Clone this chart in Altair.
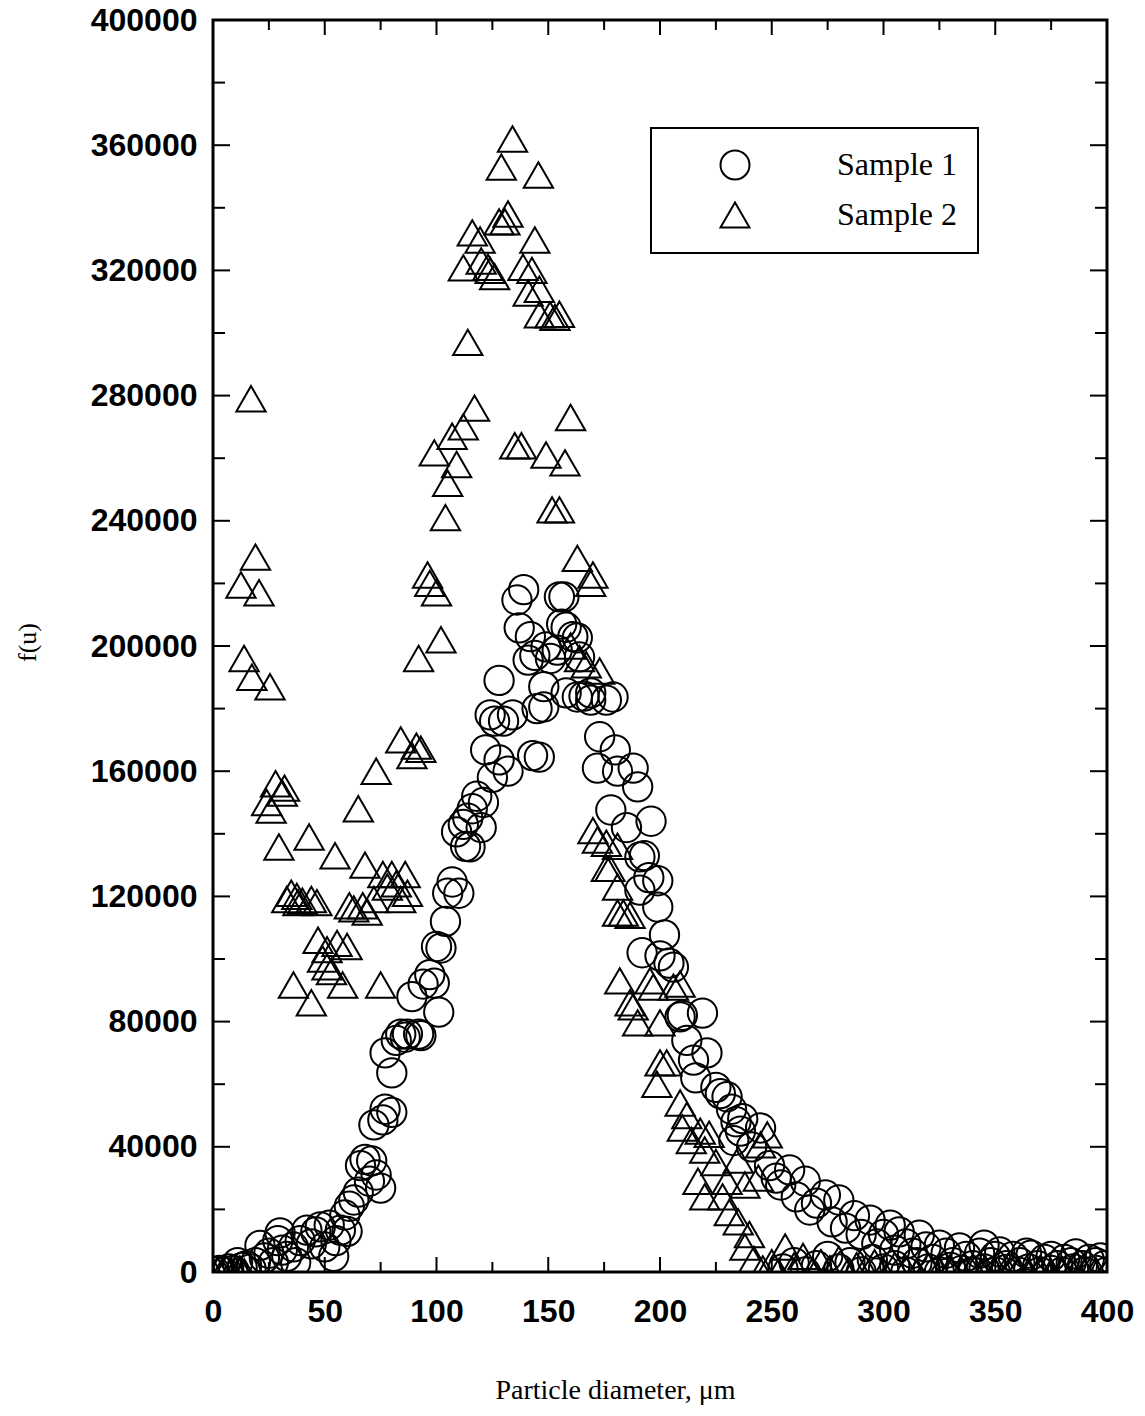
import altair as alt
import pandas as pd

# Sample 1 (circles)
s1_x = [1, 3, 5, 7, 9, 11, 13, 15, 17, 19, 21, 23, 25, 27, 29, 30, 31, 33, 36, 37, 39, 42, 44, 46, 48,
        50, 52, 54, 55, 57, 59, 60, 61, 63, 65, 66, 68, 70, 71, 73, 75, 72, 77, 80, 76, 77, 80, 82, 84,
        86, 87, 89, 92, 93, 94, 97, 99, 100, 101, 102, 104, 105, 107, 110, 109, 112, 114, 113, 115, 116,
        118, 121, 120, 122, 125, 124, 126, 128, 128, 130, 132, 134, 136, 137, 139, 141, 142, 143, 144,
        145, 146, 148, 148, 149, 151, 154, 155, 156, 157, 158, 158, 161, 163, 164, 163, 166, 169, 169,
        172, 173, 176, 178, 179, 180, 181, 185, 188, 190, 191, 191, 192, 193, 195, 196, 199, 199, 200,
        202, 204, 206, 209, 210, 212, 215, 216, 219, 221, 225, 227, 230, 232, 234, 236, 237, 241, 245,
        233, 249, 252, 254, 258, 261, 265, 267, 270, 274, 277, 280, 283, 287, 290, 294, 297, 300, 303,
        305, 307, 310, 313, 316, 319, 322, 325, 328, 331, 334, 337, 340, 343, 345, 348, 350, 352, 355,
        358, 361, 364, 366, 369, 372, 375, 378, 381, 384, 386, 389, 392, 395, 397, 399,
        255, 260, 265, 270, 275, 280, 285, 290, 295, 300, 305, 310, 315, 320, 325, 330, 335, 340, 345,
        350, 355, 360, 365, 370, 375, 380, 385, 390, 395, 400]
s1_y = [0, 500, 0, 1000, 500, 3000, 1500, 2000, 1000, 3000, 8500, 4500, 6000, 3000, 10000, 12500, 7000,
        5000, 8000, 3000, 10000, 13400, 9000, 12800, 14400, 8000, 15000, 5000, 10000, 13400, 18200,
        13000, 21000, 23000, 25500, 34000, 36000, 29000, 35500, 31000, 26800, 47000, 52000, 51000,
        48600, 70000, 63600, 74000, 76000, 75000, 76000, 88000, 76000, 75500, 92000, 95000, 92300,
        104000, 83000, 103500, 112000, 121000, 124600, 121000, 140600, 143000, 145000, 136000, 135800,
        148000, 152000, 150000, 142000, 166800, 158000, 178000, 176000, 163600, 189000, 176000, 160000,
        178000, 214700, 205800, 218000, 195500, 203000, 165000, 197000, 180000, 164500, 187000, 180500,
        199700, 196000, 198700, 215700, 207000, 215700, 185000, 206000, 203000, 202600, 196500, 183700,
        184000, 185000, 182700, 161000, 171000, 182700, 147600, 183700, 166800, 160000, 142000, 161000,
        155000, 132600, 122000, 102000, 133000, 126000, 144000, 125000, 116600, 101000, 107700, 98700,
        97400, 81500, 82000, 74000, 67700, 62000, 82700, 70000, 59000, 57000, 56000, 52000, 48000,
        45000, 49000, 40000, 46000, 42000, 34000, 30000, 27800, 32600, 24000, 29000, 19800, 22000,
        24600, 16000, 23000, 14000, 18000, 12000, 16600, 9000, 12000, 15000, 7000, 12800, 9000, 6000,
        11800, 8000, 4000, 8600, 6000, 3000, 7700, 5000, 2000, 6000, 8600, 3000, 5000, 6400, 2000,
        5000, 3000, 6000, 5400, 2000, 4000, 5000, 2000, 4000, 3000, 5800, 2000, 4000, 3000, 4500, 2000,
        1000, 3000, 0, 2000, 5000, 1000, 3000, 0, 4000, 1000, 2000, 0, 3000, 1000, 0, 1500, 500, 0,
        1000, 0, 800, 0, 1000, 0, 500, 0, 1000, 0, 500, 0]

# Sample 2 (triangles)
s2_x = [0, 2, 4, 6, 8, 10, 12, 14,
        17, 19, 12.5, 20.6, 13.9, 17.4, 25.5,
        28, 32, 31, 24, 26, 29.5, 43,
        37.5, 33, 35, 38, 40, 46.5, 44,
        47, 51, 55.5, 60, 51, 49, 53, 36, 44, 58, 75,
        54.6, 68, 65, 73,
        61, 63, 67, 69, 72, 78, 76, 80, 84, 82, 86, 87,
        84, 91, 93, 89,
        92, 96, 97, 100, 102,
        99, 104, 105, 109, 107, 112, 117,
        114, 112, 116, 119.5, 120, 123, 126, 124,
        128, 130.6, 132, 129, 134, 145.6, 144, 138.7, 142.7, 141, 146, 146, 150.8, 155, 153,
        135, 138, 149, 157.5, 160, 151.7, 155,
        163, 170, 169, 173, 160, 164, 167,
        170, 172, 176, 181, 176, 181, 177.6, 183.6, 181, 186.6, 182, 195.5, 206, 197, 209, 186.6,
        188, 190, 200, 203, 200, 198.6, 209, 210, 212, 214, 218, 220, 222, 225, 217, 220, 228,
        230, 231, 235, 238, 235, 238, 245, 248, 244, 240, 242, 246, 250, 253, 256, 260, 264,
        268, 272, 276, 280, 284, 288, 292, 296, 300, 305, 310, 315, 320, 325, 330, 335, 340,
        345, 350, 355, 360, 365, 370, 375, 380, 385, 390, 395, 400]
s2_y = [0, 500, 0, 1000, 0, 500, 1000, 0,
        279000, 228400, 219500, 217000, 196000, 190000, 187000,
        156000, 154600, 153000, 150000, 147600, 135800, 139000,
        120000, 119000, 121000, 118000, 118500, 118000, 119000,
        106000, 103000, 105000, 104000, 97500, 100000, 96000, 91700, 86000, 91700, 91700,
        133000, 130000, 148000, 160000,
        117000, 116000, 117000, 115000, 119000, 123000, 127000, 127000, 119000, 124000, 127000, 121000,
        170000, 168000, 167000, 165000,
        196000, 222700, 220000, 217000, 202000,
        261700, 241000, 252000, 258000, 267000, 270000, 276000,
        297000, 320800, 332000, 329700, 323000, 321000, 318000, 320000,
        335500, 335500, 338000, 353000, 362000, 350500, 329700, 321000, 320000, 312800, 314000,
        305800, 305800, 306000, 305000,
        264000, 264000, 261000, 258500, 273000, 243500, 243500,
        228000, 222700, 220000, 192000, 200000, 196000, 194000,
        141000, 138000, 137000, 136000, 129000, 123000, 129000, 114700, 114700, 114000, 93000, 93000,
        91000, 91000, 92000, 86000,
        84700, 79600, 79600, 66800, 66800, 60000, 54000, 46000, 50000, 42000, 45000, 39000, 44000,
        35000, 29000, 24000, 24000, 29000, 19000, 35800, 27800, 16000, 8000, 40600, 43800, 30000,
        12000, 4000, 1000, 3000, 0, 8000, 2000, 5000, 0, 3000, 1000, 4000, 0, 2000, 1000, 3000, 0,
        2000, 1000, 0, 2000, 500, 1000, 0, 1500, 500, 0, 1000, 500, 0, 1000, 0, 500, 1000, 0, 500, 0]

series_names = ["Sample 1", "Sample 2"]

x_major = [0, 50, 100, 150, 200, 250, 300, 350, 400]
x_minor = [25, 75, 125, 175, 225, 275, 325, 375]
y_major = [0, 40000, 80000, 120000, 160000, 200000, 240000, 280000, 320000, 360000, 400000]
y_minor = [20000, 60000, 100000, 140000, 180000, 220000, 260000, 300000, 340000, 380000]

W, H = 894, 1252

df = pd.concat([
    pd.DataFrame({"d": s1_x, "f": s1_y, "series": series_names[0]}),
    pd.DataFrame({"d": s2_x, "f": s2_y, "series": series_names[1]}),
], ignore_index=True)

xscale = alt.Scale(domain=[0, 400], nice=False, zero=False)
yscale = alt.Scale(domain=[0, 400000], nice=False)

sans = "Liberation Sans"
serif = "Liberation Serif"

x_axis = alt.Axis(values=x_major, title="Particle diameter, μm", grid=False, domain=False,
                  ticks=False, tickSize=0, labelPadding=24, labelFont=sans, labelFontSize=32,
                  labelFontWeight="bold", labelColor="black", labelFlush=False,
                  titleFont=serif, titleFontSize=28, titleFontWeight="normal", titleColor="black",
                  titleX=402, titleY=118, titleBaseline="middle", titleAnchor="middle")
y_axis = alt.Axis(values=y_major, format="d", title="f(u)", grid=False, domain=False,
                  ticks=False, tickSize=0, labelPadding=16, labelFont=sans, labelFontSize=32,
                  labelFontWeight="bold", labelColor="black", labelFlush=False,
                  titleFont=serif, titleFontSize=26, titleFontWeight="normal", titleColor="black",
                  titleX=-186, titleY=622, titleAngle=270, titleBaseline="middle",
                  titleAlign="center")

points = alt.Chart(df).mark_point(
    filled=False, stroke="black", strokeWidth=2, opacity=1, size=860, clip=True
).encode(
    x=alt.X("d:Q", scale=xscale, axis=x_axis),
    y=alt.Y("f:Q", scale=yscale, axis=y_axis),
    shape=alt.Shape("series:N",
                    scale=alt.Scale(domain=series_names, range=["circle", "triangle-up"]),
                    legend=alt.Legend(title=None, orient="none", legendX=438, legendY=108,
                                      padding=21, symbolOffset=47, labelOffset=86, rowPadding=14,
                                      symbolSize=841, symbolStrokeWidth=2, symbolStrokeColor="black",
                                      symbolFillColor="white", labelFont=serif, labelFontSize=32,
                                      labelExpr="datum.label + '\u00a0\u00a0\u00a0\u00a0\u00a0\u00a0'",
                                      labelColor="black", fillColor="white", strokeColor="black")),
    color=alt.value("black"),
)

def vrule(vals, y0, y1):
    return alt.Chart(pd.DataFrame({"d": vals})).mark_rule(color="black", strokeWidth=2).encode(
        x=alt.X("d:Q", scale=xscale, axis=x_axis), y=alt.value(y0), y2=alt.value(y1))

def hrule(vals, x0, x1):
    return alt.Chart(pd.DataFrame({"f": vals})).mark_rule(color="black", strokeWidth=2).encode(
        y=alt.Y("f:Q", scale=yscale, axis=y_axis), x=alt.value(x0), x2=alt.value(x1))

ticks = [
    vrule(x_major, H, H - 15), vrule(x_minor, H, H - 10),
    vrule(x_major, 0, 15), vrule(x_minor, 0, 10),
    hrule(y_major, 0, 17), hrule(y_minor, 0, 12),
    hrule(y_major, W, W - 17), hrule(y_minor, W, W - 12),
]

chart = alt.layer(points, *ticks).properties(
    width=W, height=H,
    padding={"left": 213, "top": 20, "right": 38, "bottom": 144},
    autosize=alt.AutoSizeParams(type="none"),
    background="white",
).configure_view(stroke="black", strokeWidth=3).configure_legend(strokeWidth=2)

chart.save("out.html", embed_options={"renderer": "svg", "actions": False})
